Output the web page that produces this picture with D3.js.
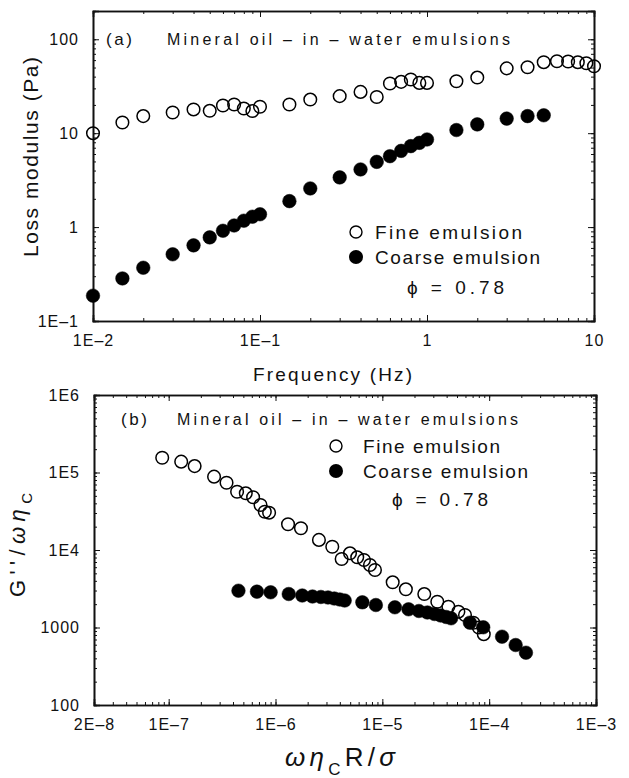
<!DOCTYPE html>
<html lang="en">
<head>
<meta charset="UTF-8">
<title>Loss modulus of emulsions</title>
<script src="https://cdn.jsdelivr.net/npm/d3@7"></script>
<style>
  body { margin: 0; background: #fff; }
  svg { display: block; font-family: "Liberation Sans", Arial, sans-serif; }
  .axis path, .axis line { stroke: #111; }
  .axis path { stroke-width: 1.6; }
  .axis text { font-size: 16px; fill: #111; letter-spacing: 1px; }
</style>
</head>
<body>
<div id="chart"></div>
<script>
// ---- panel (a): loss modulus vs frequency ----
var freqFine = [0.01, 0.015, 0.02, 0.03, 0.04, 0.05, 0.06, 0.07, 0.08, 0.09, 0.1, 0.15, 0.2, 0.3, 0.4, 0.5,
                0.6, 0.7, 0.8, 0.9, 1, 1.5, 2, 3, 4, 5, 6, 7, 8, 9, 10];
var lossFine = [10, 13, 15.2, 16.6, 17.9, 17.3, 19.7, 20.2, 18.3, 17.2, 19.1, 20.2, 22.8, 24.8, 27.5, 24.3,
                33.8, 35.2, 37.3, 34.3, 34.3, 35.7, 39.1, 49, 50.4, 57, 58.3, 58, 57, 55.6, 51.6];
var freqCoarse = [0.01, 0.015, 0.02, 0.03, 0.04, 0.05, 0.06, 0.07, 0.08, 0.09, 0.1, 0.15, 0.2, 0.3, 0.4,
                  0.5, 0.6, 0.7, 0.8, 0.9, 1, 1.5, 2, 3, 4, 5];
var lossCoarse = [0.186, 0.284, 0.369, 0.513, 0.639, 0.777, 0.914, 1.04, 1.17, 1.29, 1.37, 1.89, 2.58, 3.38,
                  4.11, 4.95, 5.69, 6.48, 7.28, 7.89, 8.57, 10.8, 12.4, 14.3, 15.2, 15.5];
var aXTicks = [0.01, 0.1, 1, 10];
var aXLabels = ["1E\u20132", "1E\u20131", "1", "10"];
var aYTicks = [0.1, 1, 10, 100];
var aYLabels = ["1E\u20131", "1", "10", "100"];

// ---- panel (b): reduced plot ----
var redXFine = [8.7e-8, 1.31e-7, 1.75e-7, 2.66e-7, 3.48e-7, 4.37e-7, 5.27e-7, 6.17e-7, 7.24e-7, 7.94e-7,
                8.71e-7, 1.31e-6, 1.73e-6, 2.55e-6, 3.4e-6, 4.16e-6, 4.98e-6, 5.82e-6, 6.73e-6, 7.66e-6,
                8.53e-6, 1.25e-5, 1.66e-5, 2.47e-5, 3.27e-5, 4.15e-5, 5.15e-5, 5.94e-5, 7.11e-5, 8.0e-5, 8.9e-5];
var redYFine = [1.55e5, 1.38e5, 1.21e5, 8.84e4, 7.38e4, 5.65e4, 5.39e4, 4.79e4, 3.81e4, 3.12e4,
                3.03e4, 2.15e4, 1.91e4, 1.35e4, 1.10e4, 7.66e3, 9.06e3, 8.05e3, 7.43e3, 6.4e3,
                5.52e3, 3.83e3, 3.11e3, 2.70e3, 2.15e3, 1.85e3, 1.60e3, 1.45e3, 1.15e3, 1.0e3, 820];
var redXCoarse = [4.5e-7, 6.7e-7, 9.0e-7, 1.33e-6, 1.78e-6, 2.22e-6, 2.66e-6, 3.1e-6, 3.55e-6, 4.0e-6,
                  4.44e-6, 6.5e-6, 8.7e-6, 1.31e-5, 1.76e-5, 2.2e-5, 2.64e-5, 3.08e-5, 3.52e-5, 3.96e-5,
                  4.4e-5, 6.6e-5, 8.8e-5, 1.32e-4, 1.77e-4, 2.21e-4];
var redYCoarse = [2985, 2900, 2845, 2705, 2587, 2512, 2477, 2440, 2367, 2297, 2230, 2113, 1950, 1822,
                  1717, 1633, 1562, 1494, 1428, 1366, 1314, 1154, 1006, 761, 594, 473];
var bXTicks = [2e-8, 1e-7, 1e-6, 1e-5, 1e-4, 1e-3];
var bXLabels = ["2E\u20138", "1E\u20137", "1E\u20136", "1E\u20135", "1E\u20134", "1E\u20133"];
var bYTicks = [100, 1000, 1e4, 1e5, 1e6];
var bYLabels = ["100", "1000", "1E4", "1E5", "1E6"];

var W = 629, H = 778;
var svg = d3.select("#chart").append("svg").attr("width", W).attr("height", H);

// minor ticks 1..9 of each decade inside a domain
function minorTicks(lo, hi) {
  var out = [];
  for (var e = Math.floor(Math.log10(lo)); e <= Math.ceil(Math.log10(hi)); e++) {
    for (var m = 1; m < 10; m++) {
      var v = m * Math.pow(10, e);
      if (v >= lo * 0.999 && v <= hi * 1.001) out.push(+v.toPrecision(3));
    }
  }
  return out;
}

function panel(box, xDom, yDom, xt, xl, yt, yl) {
  var x = d3.scaleLog().domain(xDom).range([box.left, box.right]);
  var y = d3.scaleLog().domain(yDom).range([box.bottom, box.top]);
  var xm = minorTicks(xDom[0], xDom[1]), ym = minorTicks(yDom[0], yDom[1]);

  // minor ticks, all four sides, inward
  svg.append("g").attr("class", "axis").attr("transform", "translate(0," + box.bottom + ")")
    .call(d3.axisBottom(x).tickValues(xm).tickSize(-3).tickFormat(""));
  svg.append("g").attr("class", "axis").attr("transform", "translate(0," + box.top + ")")
    .call(d3.axisTop(x).tickValues(xm).tickSize(-3).tickFormat(""));
  svg.append("g").attr("class", "axis").attr("transform", "translate(" + box.left + ",0)")
    .call(d3.axisLeft(y).tickValues(ym).tickSize(-3).tickFormat(""));
  svg.append("g").attr("class", "axis").attr("transform", "translate(" + box.right + ",0)")
    .call(d3.axisRight(y).tickValues(ym).tickSize(-3).tickFormat(""));

  // major ticks + labels
  svg.append("g").attr("class", "axis").attr("transform", "translate(0," + box.bottom + ")")
    .call(d3.axisBottom(x).tickValues(xt).tickSize(-6).tickPadding(14)
      .tickFormat(function(d, i) { return xl[i]; }));
  svg.append("g").attr("class", "axis").attr("transform", "translate(0," + box.top + ")")
    .call(d3.axisTop(x).tickValues(xt).tickSize(-6).tickFormat(""));
  svg.append("g").attr("class", "axis").attr("transform", "translate(" + box.left + ",0)")
    .call(d3.axisLeft(y).tickValues(yt).tickSize(-6).tickPadding(14)
      .tickFormat(function(d, i) { return yl[i]; }));
  svg.append("g").attr("class", "axis").attr("transform", "translate(" + box.right + ",0)")
    .call(d3.axisRight(y).tickValues(yt).tickSize(-6).tickFormat(""));

  svg.selectAll(".axis .domain").attr("stroke-width", 1.6);
  return { x: x, y: y };
}

function dots(sc, xs, ys, filled) {
  svg.append("g").selectAll("circle")
    .data(xs.map(function(d, i) { return [d, ys[i]]; }))
    .enter().append("circle")
    .attr("cx", function(d) { return sc.x(d[0]); })
    .attr("cy", function(d) { return sc.y(d[1]); })
    .attr("r", filled ? 6.8 : 6.3)
    .attr("fill", filled ? "#000" : "none")
    .attr("stroke", "#000")
    .attr("stroke-width", filled ? 0.5 : 1.5);
}

function label(txt, x, y, size, len) {
  var t = svg.append("text").attr("x", x).attr("y", y).attr("font-size", size)
    .attr("fill", "#111").text(txt);
  if (len) t.attr("textLength", len).attr("lengthAdjust", "spacing");
  return t;
}

// panel (a)
var A = panel({ left: 93, right: 594, top: 11, bottom: 321 }, [0.01, 10], [0.1, 200],
  aXTicks, aXLabels, aYTicks, aYLabels);
dots(A, freqCoarse, lossCoarse, true);
dots(A, freqFine, lossFine, false);

label("(a)", 106, 45, 17, 26);
label("Mineral oil \u2013 in \u2013 water emulsions", 167, 45, 16, 343);
svg.append("circle").attr("cx", 356).attr("cy", 232).attr("r", 6).attr("fill", "none")
  .attr("stroke", "#000").attr("stroke-width", 1.4);
label("Fine emulsion", 375, 239, 19, 147);
svg.append("circle").attr("cx", 356).attr("cy", 257).attr("r", 7).attr("fill", "#000");
label("Coarse emulsion", 375, 264, 19, 165);
label("\u03d5 = 0.78", 407, 294, 19, 97);
label("Frequency (Hz)", 253, 381, 19, 159);
svg.append("text").attr("transform", "translate(38,157) rotate(-90)")
  .attr("text-anchor", "middle").attr("font-size", 21).attr("fill", "#111")
  .attr("textLength", 200).attr("lengthAdjust", "spacing")
  .text("Loss modulus (Pa)");

// panel (b)
var B = panel({ left: 94, right: 596, top: 395, bottom: 705 }, [2e-8, 1e-3], [100, 1e6],
  bXTicks, bXLabels, bYTicks, bYLabels);
dots(B, redXCoarse, redYCoarse, true);
dots(B, redXFine, redYFine, false);

label("(b)", 121, 425, 17, 26);
label("Mineral oil \u2013 in \u2013 water emulsions", 177, 425, 16, 341);
svg.append("circle").attr("cx", 336).attr("cy", 446).attr("r", 6).attr("fill", "none")
  .attr("stroke", "#000").attr("stroke-width", 1.4);
label("Fine emulsion", 363, 453, 19, 137);
svg.append("circle").attr("cx", 336).attr("cy", 471).attr("r", 7).attr("fill", "#000");
label("Coarse emulsion", 363, 478, 19, 165);
label("\u03d5 = 0.78", 392, 506, 19, 96);

var xl = svg.append("text").attr("x", 285).attr("y", 766).attr("font-size", 26).attr("fill", "#111")
  .attr("textLength", 110).attr("lengthAdjust", "spacing");
xl.append("tspan").attr("font-style", "italic").text("\u03c9\u03b7");
xl.append("tspan").attr("font-size", 17).attr("dy", 9).text("C");
xl.append("tspan").attr("dy", -9).text("R/");
xl.append("tspan").attr("font-style", "italic").text("\u03c3");

var yl = svg.append("text").attr("transform", "translate(25,597) rotate(-90)")
  .attr("font-size", 22).attr("fill", "#111")
  .attr("textLength", 104).attr("lengthAdjust", "spacing");
yl.append("tspan").text("G''/");
yl.append("tspan").attr("font-style", "italic").text("\u03c9\u03b7");
yl.append("tspan").attr("font-size", 15).attr("dy", 7).text("C");
</script>
</body>
</html>
